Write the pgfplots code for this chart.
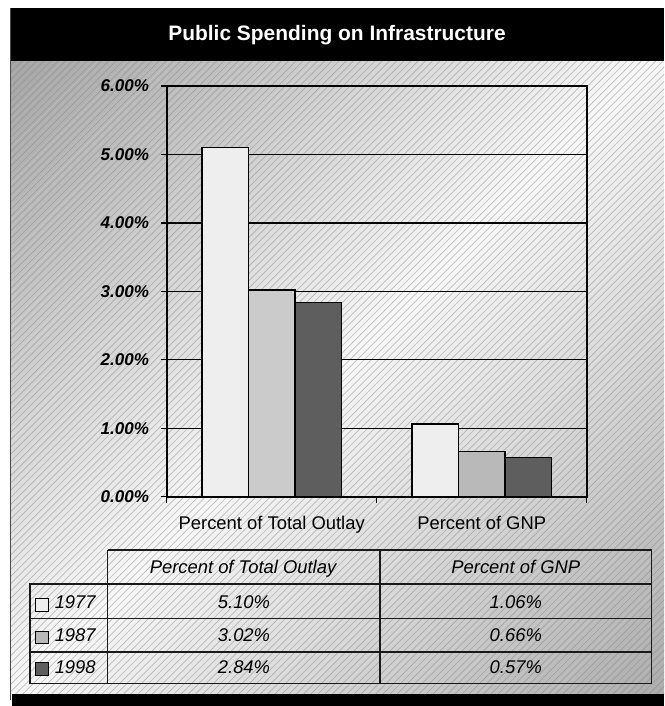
\documentclass[border=0pt]{standalone}
\usepackage{pgfplots}
\pgfplotsset{compat=1.18}
\usepackage{fontspec}
\setmainfont{Liberation Sans}
\definecolor{cA}{HTML}{EEEEEE}
\definecolor{cB}{HTML}{CBCBCB}
\definecolor{cBb}{HTML}{B9B9B9}
\definecolor{cC}{HTML}{5E5E5E}
\begin{document}
\begin{tikzpicture}[x=0.75pt,y=0.75pt]
\fill[white] (0,0) rectangle (664,706);
\begin{scope}
\clip (10,11.5) rectangle (664,645);
\foreach \k in {-648,-640.8,...,660} {
  \pgfmathsetmacro\d{ifthenelse(\k<0, 3-(\k/648)*33, 3+(\k/660)*30)}
  \pgfmathsetmacro\dd{24+0.5*\d}
  \fill[black!\d] (\k,0) -- (\k+7.4,0) -- (\k+713.4,706) -- (\k+706,706) -- cycle;
  \draw[black!\dd, line width=0.5pt] (\k+3.6,0) -- ++(706,706);
}
\end{scope}
\fill[black] (10,645) rectangle (664,698);
\node[text=white, font=\fontsize{15.7}{18}\selectfont\bfseries] at (337,671) {Public Spending on Infrastructure};
\fill[black] (12,0) rectangle (664,11.5);
\draw[black!70, line width=0.75pt] (10.5,6) -- (10.5,698);
% data table
\begin{scope}[line width=0.9pt, draw=black!90]
\draw (107.7,156) -- (651.7,156) -- (651.7,22.7) -- (30,22.7) -- (30,122) -- (651.7,122);
\draw (107.7,156) -- (107.7,22.7);
\draw (380,156) -- (380,22.7);
\draw (30,87.3) -- (651.7,87.3);
\draw (30,54) -- (651.7,54);
\end{scope}
\begin{scope}[every node/.style={font=\fontsize{13.8}{16}\selectfont\itshape, inner sep=0pt, anchor=base}]
\node at (243,132.7) {Percent of Total Outlay};
\node at (515.8,132.7) {Percent of GNP};
\node at (244,97) {5.10\%};
\node at (515.8,97) {1.06\%};
\node at (244,64.3) {3.02\%};
\node at (515.8,64.3) {0.66\%};
\node at (244,32.7) {2.84\%};
\node at (515.8,32.7) {0.57\%};
\node[anchor=base west] at (54.5,97) {1977};
\node[anchor=base west] at (54.5,64.3) {1987};
\node[anchor=base west] at (54.5,32.7) {1998};
\end{scope}
\filldraw[fill=cA, draw=black, line width=0.6pt] (35.5,95) rectangle (48,107.5);
\filldraw[fill=cBb, draw=black, line width=0.6pt] (35.5,62.3) rectangle (48,74.8);
\filldraw[fill=cC, draw=black, line width=0.6pt] (35.5,30.7) rectangle (48,43.2);
\begin{axis}[
  at={(125.025pt,156.975pt)}, anchor=south west,
  scale only axis, width=315pt, height=308pt,
  xmin=0, xmax=2, ymin=0, ymax=6,
  ybar=0pt, bar width=34.9pt,
  axis line style={line width=1.4pt, black},
  xtick pos=bottom, ytick pos=left,
  ytick={0,1,2,3,4,5,6},
  yticklabels={0.00\%,1.00\%,2.00\%,3.00\%,4.00\%,5.00\%,6.00\%},
  yticklabel style={font=\fontsize{12.8}{14}\selectfont\bfseries\itshape, anchor=east, inner sep=0pt, xshift=-8.5pt},
  ymajorgrids, major grid style={line width=0.9pt, black},
  xtick={0.5,1.5},
  xticklabels={Percent of Total Outlay, Percent of GNP},
  xticklabel style={font=\fontsize{13.8}{16}\selectfont, anchor=base, inner sep=0pt, yshift=-20pt},
  minor xtick={0,1,2},
  tick align=outside,
  major x tick style={draw=none},
  minor tick length=4.5pt, major tick length=4.5pt,
  tick style={line width=1pt, black},
]
\addplot[fill=cA, draw=black, line width=1.1pt, bar shift=-34.9pt] coordinates {(0.5,5.10) (1.5,1.06)};
\addplot[fill=cB, draw=black, line width=1.1pt, bar shift=0pt] coordinates {(0.5,3.02)};
\addplot[fill=cBb, draw=black, line width=1.1pt, bar shift=0pt] coordinates {(1.5,0.66)};
\addplot[fill=cC, draw=black, line width=1.1pt, bar shift=34.9pt] coordinates {(0.5,2.84) (1.5,0.57)};
\end{axis}
\end{tikzpicture}
\end{document}
